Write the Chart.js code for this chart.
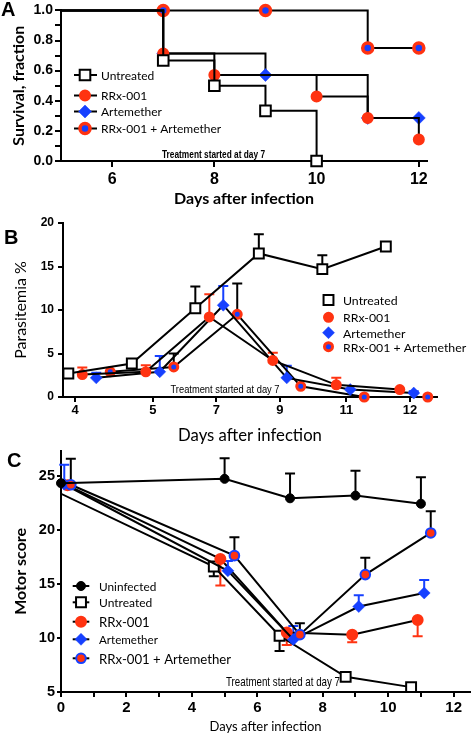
<!DOCTYPE html>
<html>
<head>
<meta charset="utf-8">
<script src="https://cdn.jsdelivr.net/npm/chart.js@4.4.1/dist/chart.umd.min.js"></script>
<style>
  html, body { margin: 0; padding: 0; background: #fff; }
  #page { position: relative; width: 471px; height: 734px; overflow: hidden; }
  #page canvas { position: absolute; left: 0; }
  .tag { position: absolute; font: bold 20px 'Liberation Sans', Arial, sans-serif; line-height: 20px; color: #000; }
</style>
</head>
<body>
<div id="page">
  <canvas id="chartA" width="471" height="210" style="top:0"></canvas>
  <canvas id="chartB" width="471" height="240" style="top:210px"></canvas>
  <canvas id="chartC" width="471" height="294" style="top:440px"></canvas>
  <div class="tag" style="left:1px;top:-1px">A</div>
  <div class="tag" style="left:4px;top:227px">B</div>
  <div class="tag" style="left:7px;top:450px">C</div>
</div>
<script>
// ---- Panel A: survival (Kaplan-Meier steps) ----
const survDaysUntreated = [5, 7, 8, 9, 10];
const survUntreated = [1, 0.667, 0.5, 0.333, 0];
const survDaysRRx = [5, 7, 8, 10, 11, 12];
const survRRx = [1, 0.714, 0.571, 0.429, 0.286, 0.143];
const survDaysArt = [5, 7, 9, 11, 12];
const survArt = [1, 0.714, 0.571, 0.286, 0.286];
const survDaysCombo = [5, 7, 9, 11, 12];
const survCombo = [1, 1, 1, 0.75, 0.75];
const survTickLabels = ['0.0', '0.2', '0.4', '0.6', '0.8', '1.0'];
const survDayTicks = [6, 8, 10, 12];

// ---- Panel B: parasitemia % (grouped by day) ----
const paraDays = ['4', '5', '7', '9', '11', '12'];
const paraUntreated = [2.7, 3.85, 10.2, 16.5, 14.7, 17.3];
const paraUntreatedErr = [0, 0.45, 2.5, 2.2, 1.6, 0];
const paraRRx = [2.58, 2.9, 9.2, 4.2, 1.4, 0.85];
const paraRRxErr = [0.8, 0.75, 2.6, 0.9, 0.8, 0];
const paraArt = [2.2, 2.9, 10.55, 2.2, 0.85, 0.45];
const paraArtErr = [0.6, 1.8, 2.2, 1.4, 0, 0.2];
const paraCombo = [2.9, 3.45, 9.5, 1.23, 0, 0];
const paraComboErr = [0, 1.55, 3.55, 0, 0, 0];
const paraTickLabels = ['0', '5', '10', '15', '20'];

// ---- Panel C: motor score ----
const motorDaysUninfected = [0, 5, 7, 9, 11];
const motorUninfected = [24.3, 24.7, 22.9, 23.15, 22.4];
const motorUninfectedErr = [0, 1.9, 2.3, 2.3, 2.45];
const motorDaysUntreated = [-0.33, 4.67, 6.68, 8.7, 10.7];
const motorUntreated = [23.8, 16.6, 10.2, 6.4, 5.45];
const motorUntreatedErr = [0, 0.9, 1.4, 0, 0];
const motorDaysRRx = [0.2, 4.87, 6.9, 8.9, 10.9];
const motorRRx = [24.1, 17.3, 10.5, 10.3, 11.65];
const motorRRxErr = [0, 2.45, 1.15, 0.7, 1.5];
const motorDaysArt = [0.1, 5.1, 7.1, 9.1, 11.1];
const motorArt = [24.2, 16.2, 9.85, 12.9, 14.15];
const motorArtErr = [1.8, 0.9, 1.25, 1.05, 1.2];
const motorDaysCombo = [0.3, 5.3, 7.3, 9.3, 11.3];
const motorCombo = [24.15, 17.6, 10.3, 15.85, 19.7];
const motorComboErr = [2.4, 1.7, 1.05, 1.55, 2.0];
const motorTickLabels = ['5', '10', '15', '20', '25'];
const motorDayTicks = [0, 1, 2, 3, 4, 5, 6, 7, 8, 9, 10, 11, 12];

const RED = '#ff3311';
const BLUE = '#1640ff';
const TITLE_FONT = "Lato, 'Open Sans', sans-serif";

Chart.defaults.font.family = "'Liberation Sans', Arial, sans-serif";
Chart.defaults.color = '#000';

function marker(shape, r, bg, border, bw) {
    return { shape, r, bg, border, bw };
}

function drawMarker(ctx, m, x, y) {
    ctx.save();
    ctx.fillStyle = m.bg;
    ctx.strokeStyle = m.border;
    ctx.lineWidth = m.bw;
    ctx.beginPath();
    if (m.shape === 'rect') {
        const s = m.r * Math.SQRT1_2;
        ctx.rect(x - s, y - s, 2 * s, 2 * s);
    } else if (m.shape === 'rectRot') {
        ctx.moveTo(x - m.r, y);
        ctx.lineTo(x, y - m.r);
        ctx.lineTo(x + m.r, y);
        ctx.lineTo(x, y + m.r);
        ctx.closePath();
    } else {
        ctx.arc(x, y, m.r, 0, Math.PI * 2);
    }
    ctx.fill();
    if (m.bw > 0) ctx.stroke();
    ctx.restore();
}

function series(label, xs, ys, m, extra) {
    return Object.assign({
        label: label,
        data: xs.map((x, i) => ({ x: x, y: ys[i] })),
        mark: m,
        borderColor: '#000',
        borderWidth: 2,
        tension: 0,
        fill: false,
        pointStyle: m.shape,
        pointRadius: m.r,
        pointHoverRadius: m.r,
        pointBackgroundColor: m.bg,
        pointBorderColor: m.border,
        pointBorderWidth: m.bw,
        clip: false
    }, extra || {});
}

// vertical error bars with a cap, drawn under the lines
const errorBars = {
    id: 'errorBars',
    beforeDatasetsDraw(chart) {
        const ctx = chart.ctx;
        const yScale = chart.scales.y;
        chart.data.datasets.forEach((ds, i) => {
            if (!ds.errUp && !ds.errDown) return;
            const meta = chart.getDatasetMeta(i);
            ctx.save();
            ctx.strokeStyle = ds.errColor || '#000';
            ctx.lineWidth = 2;
            meta.data.forEach((pt, j) => {
                const v = ds.data[j].y;
                [[ds.errUp, 1], [ds.errDown, -1]].forEach(([arr, sign]) => {
                    if (!arr || !arr[j]) return;
                    const ye = yScale.getPixelForValue(v + sign * arr[j]);
                    ctx.beginPath();
                    ctx.moveTo(pt.x, pt.y);
                    ctx.lineTo(pt.x, ye);
                    ctx.moveTo(pt.x - 5, ye);
                    ctx.lineTo(pt.x + 5, ye);
                    ctx.stroke();
                });
            });
            ctx.restore();
        });
    }
};

// hand placed legend (per-row font sizes like the original)
const keyBox = {
    id: 'keyBox',
    afterDatasetsDraw(chart, args, opts) {
        if (!opts || !opts.rows) return;
        const ctx = chart.ctx;
        chart.data.datasets.forEach((ds, k) => {
            const row = opts.rows[k];
            if (!row) return;
            if (opts.lineFrom != null) {
                ctx.save();
                ctx.strokeStyle = '#000';
                ctx.lineWidth = 2;
                ctx.beginPath();
                ctx.moveTo(opts.lineFrom, row.y);
                ctx.lineTo(opts.lineTo, row.y);
                ctx.stroke();
                ctx.restore();
            }
            drawMarker(ctx, ds.mark, opts.markerX, row.y);
            ctx.save();
            ctx.fillStyle = '#000';
            ctx.font = (row.weight || 'normal') + ' ' + row.size + 'px ' + TITLE_FONT;
            ctx.textBaseline = 'middle';
            ctx.textAlign = 'left';
            ctx.fillText(ds.label, opts.textX, row.y + 1);
            ctx.restore();
        });
    }
};

// condensed "Treatment started" note
const noteText = {
    id: 'noteText',
    afterDraw(chart, args, opts) {
        if (!opts || !opts.text) return;
        const ctx = chart.ctx;
        ctx.save();
        ctx.font = (opts.weight || 'normal') + ' ' + opts.size + "px 'Liberation Sans Narrow', 'Liberation Sans', sans-serif";
        const w = ctx.measureText(opts.text).width;
        ctx.translate(opts.x, opts.y);
        ctx.scale(opts.width / w, 1);
        ctx.fillStyle = '#000';
        ctx.textAlign = 'center';
        ctx.textBaseline = 'middle';
        ctx.fillText(opts.text, 0, 0);
        ctx.restore();
    }
};

function axis(o) {
    return {
        type: 'linear',
        min: o.min,
        max: o.max,
        border: { display: true, color: '#000', width: 2 },
        grid: { drawOnChartArea: false, drawTicks: true, tickLength: o.tickLen, color: '#000', lineWidth: 2 },
        ticks: {
            color: '#000', font: o.tickFont, padding: o.tickPad,
            autoSkip: false, maxRotation: 0, minRotation: 0,
            callback: o.label
        },
        title: { display: true, text: o.title, color: '#000', font: o.titleFont, padding: o.titlePad },
        afterBuildTicks: ax => { ax.ticks = o.ticks.map(v => ({ value: v })); },
        afterFit: ax => {
            if (o.width) ax.width = o.width;
            if (o.height) ax.height = o.height;
        }
    };
}

function baseOptions(padding, scales, plugins) {
    return {
        responsive: false,
        maintainAspectRatio: false,
        animation: false,
        events: [],
        layout: { padding: padding, autoPadding: false },
        plugins: Object.assign({ legend: { display: false }, tooltip: { enabled: false } }, plugins),
        scales: scales
    };
}

// ---------- Panel A ----------
const initSurvival = () => {
    const mU = marker('rect', 7.5, '#fff', '#000', 2);
    const mR = marker('circle', 5, RED, RED, 2);
    const mA = marker('rectRot', 6.5, BLUE, BLUE, 0.5);
    const mC = marker('circle', 5, BLUE, RED, 3.5);
    const hideFirst = m => ({ stepped: true, pointRadius: c => (c.dataIndex === 0 ? 0 : m.r) });

    const survTicks = [];
    survTickLabels.forEach((t, i) => {
        survTicks.push(parseFloat(t));
        if (i < survTickLabels.length - 1) survTicks.push(parseFloat(t) + 0.1);
    });

    new Chart(document.getElementById('chartA'), {
        type: 'line',
        data: {
            datasets: [
                series('Untreated', survDaysUntreated, survUntreated, mU, hideFirst(mU)),
                series('RRx-001', survDaysRRx, survRRx, mR, hideFirst(mR)),
                series('Artemether', survDaysArt, survArt, mA, hideFirst(mA)),
                series('RRx-001 + Artemether', survDaysCombo, survCombo, mC, hideFirst(mC))
            ]
        },
        options: baseOptions({ top: 10, right: 44, bottom: 0, left: 0 }, {
            x: axis({
                min: 5, max: 12.16, ticks: survDayTicks, height: 49,
                tickLen: 6, tickPad: 3, tickFont: { size: 16, weight: 'bold' },
                label: v => String(v),
                title: 'Days after infection',
                titleFont: { family: TITLE_FONT, size: 16, weight: 'bold', lineHeight: 1 },
                titlePad: { top: 0, bottom: 3.5 }
            }),
            y: axis({
                min: 0, max: 1, ticks: survTicks, width: 61,
                tickLen: 6, tickPad: 2, tickFont: { size: 14, weight: 'bold' },
                label: v => {
                    const t = v.toFixed(1);
                    return survTickLabels.includes(t) ? t : '';
                },
                title: 'Survival, fraction',
                titleFont: { family: TITLE_FONT, size: 16, weight: 'bold', lineHeight: 1.2 },
                titlePad: { top: 9, bottom: 0 }
            })
        }, {
            keyBox: {
                markerX: 85, lineFrom: 74, lineTo: 97, textX: 101,
                rows: [{ y: 75, size: 12 }, { y: 95.5, size: 12 }, { y: 111.5, size: 12 }, { y: 128.5, size: 12 }]
            },
            noteText: { text: 'Treatment started at day 7', x: 213.5, y: 155, width: 103, size: 11, weight: 'bold' }
        }),
        plugins: [errorBars, keyBox, noteText]
    });
};

// ---------- Panel B ----------
const initParasitemia = () => {
    const offsets = [-0.33, -0.11, 0.11, 0.33];
    const groupX = k => paraDays.map((d, i) => i + offsets[k]);
    const mU = marker('rect', 7, '#fff', '#000', 2);
    const mR = marker('circle', 4.5, RED, RED, 2);
    const mA = marker('rectRot', 6, BLUE, BLUE, 0.5);
    const mC = marker('circle', 4, BLUE, RED, 3);

    new Chart(document.getElementById('chartB'), {
        type: 'line',
        data: {
            datasets: [
                series('Untreated', groupX(0), paraUntreated, mU, { errUp: paraUntreatedErr, errColor: '#000' }),
                series('RRx-001', groupX(1), paraRRx, mR, { errUp: paraRRxErr, errColor: RED }),
                series('Artemether', groupX(2), paraArt, mA, { errUp: paraArtErr, errColor: BLUE }),
                series('RRx-001 + Artemether', groupX(3), paraCombo, mC, { errUp: paraComboErr, errColor: '#000' })
            ]
        },
        options: baseOptions({ top: 13, right: 34, bottom: 0, left: 0 }, {
            x: axis({
                min: -0.414, max: 5.476, ticks: [-0.225, 1, 2, 3, 4.05, 5.05], height: 53,
                tickLen: 5, tickPad: 1, tickFont: { size: 13, weight: 'bold' },
                label: (v, i) => paraDays[i],
                title: 'Days after infection',
                titleFont: { family: TITLE_FONT, size: 16.7, weight: 'normal', lineHeight: 1 },
                titlePad: { top: 0, bottom: 6 }
            }),
            y: axis({
                min: 0, max: 20, ticks: paraTickLabels.map(Number), width: 63,
                tickLen: 5, tickPad: 4, tickFont: { size: 12, weight: 'bold' },
                label: v => String(v),
                title: 'Parasitemia %',
                titleFont: { family: TITLE_FONT, size: 16, weight: 'normal', lineHeight: 1.2 },
                titlePad: { top: 11, bottom: 0 }
            })
        }, {
            keyBox: {
                markerX: 328.5, textX: 343,
                rows: [{ y: 90, size: 12.3 }, { y: 107.3, size: 12.3 }, { y: 122.7, size: 12.3 }, { y: 136.7, size: 12.3 }]
            },
            noteText: { text: 'Treatment started at day 7', x: 225, y: 180, width: 109, size: 11 }
        }),
        plugins: [errorBars, keyBox, noteText]
    });
};

// ---------- Panel C ----------
const initMotor = () => {
    const mN = marker('circle', 4.5, '#000', '#000', 1);
    const mU = marker('rect', 7, '#fff', '#000', 2);
    const mR = marker('circle', 5, RED, RED, 2);
    const mA = marker('rectRot', 6, BLUE, BLUE, 0.5);
    const mC = marker('circle', 4.8, RED, BLUE, 2);

    new Chart(document.getElementById('chartC'), {
        type: 'line',
        data: {
            datasets: [
                series('Uninfected', motorDaysUninfected, motorUninfected, mN, { errUp: motorUninfectedErr, errColor: '#000', order: 0 }),
                series('Untreated', motorDaysUntreated, motorUntreated, mU, { errDown: motorUntreatedErr, errColor: '#000', order: 4, clip: 1 }),
                series('RRx-001', motorDaysRRx, motorRRx, mR, { errDown: motorRRxErr, errColor: RED, order: 3 }),
                series('Artemether', motorDaysArt, motorArt, mA, { errUp: motorArtErr, errColor: BLUE, order: 2 }),
                series('RRx-001 + Artemether', motorDaysCombo, motorCombo, mC, { errUp: motorComboErr, errColor: '#000', order: 1 })
            ]
        },
        options: baseOptions({ top: 3, right: 1, bottom: 0, left: 0 }, {
            x: axis({
                min: 0, max: 12.5, ticks: motorDayTicks, height: 42,
                tickLen: 5, tickPad: 2, tickFont: { size: 15, weight: 'bold' },
                label: v => (v % 2 === 0 ? String(v) : ''),
                title: 'Days after infection',
                titleFont: { family: TITLE_FONT, size: 13, weight: 'normal', lineHeight: 1 },
                titlePad: { top: 0, bottom: 0.5 }
            }),
            y: axis({
                min: 5, max: 27.3, ticks: motorTickLabels.map(Number), width: 61,
                tickLen: 4, tickPad: 2, tickFont: { size: 14.5, weight: 'bold' },
                label: v => String(v),
                title: 'Motor score',
                titleFont: { family: TITLE_FONT, size: 16, weight: 'bold', lineHeight: 1.2 },
                titlePad: { top: 11, bottom: 0 }
            })
        }, {
            keyBox: {
                markerX: 81, lineFrom: 72.7, lineTo: 89.3, textX: 99,
                rows: [{ y: 146, size: 11.8 }, { y: 162.3, size: 12 }, { y: 181.7, size: 13.2 }, { y: 199.3, size: 11.6 }, { y: 218.3, size: 13.2 }]
            },
            noteText: { text: 'Treatment started at day 7', x: 283, y: 242.7, width: 114, size: 13 }
        }),
        plugins: [errorBars, keyBox, noteText]
    });
};

initSurvival();
initParasitemia();
initMotor();
</script>
</body>
</html>
